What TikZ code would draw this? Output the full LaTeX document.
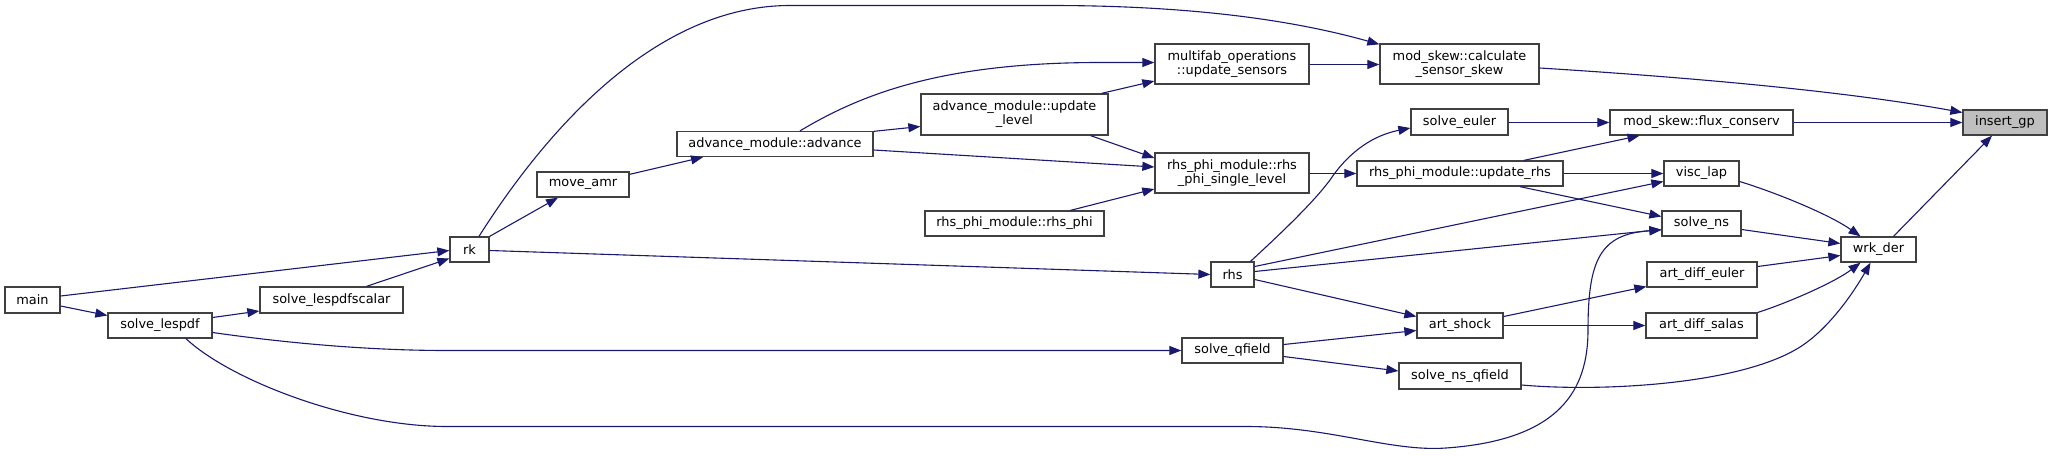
\documentclass[tikz,border=0pt]{standalone}
\usepackage{fontspec}
\newfontfamily\dvs{DejaVu Sans}
\usetikzlibrary{arrows.meta,calc}
\definecolor{edgecol}{RGB}{25,25,112}
\definecolor{bordercol}{RGB}{64,64,64}
\definecolor{grayfill}{RGB}{191,191,191}
\begin{document}
\begin{tikzpicture}[x=1pt,y=-1pt,
  box/.style={draw=bordercol,line width=1.3pt,fill=white,inner sep=0pt,align=center,
    font=\dvs\fontsize{12.9}{14}\selectfont},
  sz/.style 2 args={minimum width=#1pt,minimum height=#2pt},
  edge/.style={draw=edgecol,line width=1.1pt,-{Triangle[length=12pt,width=9pt]}}]
\useasboundingbox (0,0) rectangle (2052,455);

% nodes
\node[box,sz={55}{26}] (main) at (32.5,300) {main};
\node[box,sz={104}{25}] (lespdf) at (160,325.5) {solve\_lespdf};
\node[box,sz={143}{26}] (scalar) at (331.5,300) {solve\_lespdfscalar};
\node[box,sz={39}{25}] (rk) at (469.5,249.5) {rk};
\node[box,sz={92}{25}] (moveamr) at (583,184.5) {move\_amr};
\node[box,sz={196}{25}] (advance) at (775,144) {advance\_module::advance};
\node[box,sz={187}{41}] (uplevel) at (1014.5,114.5) {advance\_module::update\\\_level};
\node[box,sz={179}{25}] (rhsphi) at (1014.5,223.5) {rhs\_phi\_module::rhs\_phi};
\node[box,sz={154}{40}] (multifab) at (1232,64) {multifab\_operations\\::update\_sensors};
\node[box,sz={154}{40}] (single) at (1232,173) {rhs\_phi\_module::rhs\\\_phi\_single\_level};
\node[box,sz={159}{40}] (skew) at (1459.5,64) {mod\_skew::calculate\\\_sensor\_skew};
\node[box,sz={97}{26}] (euler) at (1459.5,122) {solve\_euler};
\node[box,sz={206}{25}] (updrhs) at (1460,173.5) {rhs\_phi\_module::update\_rhs};
\node[box,sz={43}{25}] (rhs) at (1232.5,274.5) {rhs};
\node[box,sz={86}{25}] (shock) at (1460,325.5) {art\_shock};
\node[box,sz={101}{25}] (qfield) at (1232.5,350.5) {solve\_qfield};
\node[box,sz={122}{26}] (nsq) at (1460,376) {solve\_ns\_qfield};
\node[box,sz={183}{25}] (flux) at (1701.5,122.5) {mod\_skew::flux\_conserv};
\node[box,sz={75}{25}] (visc) at (1701.5,173.5) {visc\_lap};
\node[box,sz={79}{25}] (ns) at (1701.5,223.5) {solve\_ns};
\node[box,sz={110}{25}] (ade) at (1702,274.5) {art\_diff\_euler};
\node[box,sz={111}{25}] (ads) at (1701.5,325.5) {art\_diff\_salas};
\node[box,sz={75}{25}] (wrk) at (1878.5,249.5) {wrk\_der};
\node[box,sz={84}{25},fill=grayfill] (ins) at (2005,122.5) {insert\_gp};

% edges
\draw[edge] ($(main.east)+(0,-4)$) -- ($(rk.west)+(0,1)$);
\draw[edge] ($(main.east)+(0,6)$) -- ($(lespdf.west)+(0,-10)$);
\draw[edge] ($(lespdf.east)+(0,-8)$) -- ($(scalar.west)+(0,11)$);
\draw[edge] ($(scalar.north)+(35,0)$) -- ($(rk.west)+(0,9)$);
\draw[edge] (rk.north east) -- ($(moveamr.south)+(-25,0)$);
\draw[edge] ($(rk.east)+(0,1)$) -- (rhs.west);
\draw[edge] ($(rk.north)+(9.5,0)$) .. controls (540,140) and (650,5.5) .. (790,5.5)
  -- (1050,5.5) .. controls (1200,5.5) and (1300,22) .. ($(skew.north west)+(0,1)$);
\draw[edge] ($(moveamr.north east)+(0,3)$) -- ($(advance.south)+(-72,0)$);
\draw[edge] ($(advance.north east)+(0,0.5)$) -- ($(uplevel.west)+(0,12)$);
\draw[edge] ($(advance.north)+(25,0)$) .. controls (860,95) and (940,62.5) .. (1100,62.5)
  -- ($(multifab.west)+(0,-1.5)$);
\draw[edge] ($(advance.east)+(0,6)$) -- ($(single.west)+(0,-6)$);
\draw[edge] ($(uplevel.north east)+(-7,0)$) -- ($(multifab.west)+(0,17)$);
\draw[edge] ($(uplevel.south east)+(-18,0)$) -- ($(single.west)+(0,-15)$);
\draw[edge] ($(rhsphi.north)+(56,0)$) -- ($(single.west)+(0,16)$);
\draw[edge] ($(multifab.east)+(0,0.5)$) -- ($(skew.west)+(0,0.5)$);
\draw[edge] ($(skew.east)+(0,4)$) .. controls (1700,78) and (1850,92) .. ($(ins.west)+(0,-10)$);
\draw[edge] ($(single.east)+(0,0.5)$) -- (updrhs.west);
\draw[edge] ($(rhs.north)+(18,0)$) .. controls (1290,225) and (1315,200) .. (1330,180)
  .. controls (1350,150) and (1375,135) .. ($(euler.west)+(0,6)$);
\draw[edge] ($(euler.east)+(0,0.5)$) -- (flux.west);
\draw[edge] ($(updrhs.north)+(64,0)$) -- ($(flux.south)+(-62,0)$);
\draw[edge] (updrhs.east) -- (visc.west);
\draw[edge] ($(updrhs.south)+(60,0)$) -- ($(ns.west)+(0,-7)$);
\draw[edge] (flux.east) -- (ins.west);
\draw[edge] ($(rhs.east)+(0,-8)$) -- ($(visc.west)+(0,8)$);
\draw[edge] ($(rhs.east)+(0,-3)$) -- ($(ns.west)+(0,6)$);
\draw[edge] ($(rhs.east)+(0,5)$) -- ($(shock.west)+(0,-9)$);
\draw[edge] ($(qfield.east)+(0,-6)$) -- ($(shock.west)+(0,5)$);
\draw[edge] ($(qfield.east)+(0,6)$) -- ($(nsq.west)+(0,-5)$);
\draw[edge] ($(shock.east)+(0,-9)$) -- ($(ade.west)+(0,12)$);
\draw[edge] (shock.east) -- (ads.west);
\draw[edge] ($(visc.east)+(0,8)$) .. controls (1780,194) and (1830,215) .. ($(wrk.north)+(-18,0)$);
\draw[edge] ($(ns.east)+(0,6)$) -- ($(wrk.west)+(0,-6)$);
\draw[edge] ($(ade.east)+(0,-8)$) -- ($(wrk.west)+(0,6)$);
\draw[edge] ($(ads.east)+(0,-13)$) .. controls (1790,302) and (1835,282) .. ($(wrk.south)+(-18,0)$);
\draw[edge] ($(nsq.east)+(0,9)$) .. controls (1600,392) and (1740,385) .. (1800,347)
  .. controls (1830,328) and (1855,290) .. ($(wrk.south)+(-8,0)$);
\draw[edge] ($(wrk.north)+(15,0)$) -- ($(ins.south)+(-13,0)$);
\draw[edge] ($(lespdf.east)+(0,7)$) .. controls (300,345) and (380,350.5) .. (447,350.5)
  -- (qfield.west);
\draw[edge] ($(lespdf.south)+(26,0)$) .. controls (230,380) and (350,426.5) .. (447,426.5)
  -- (1246,426.5) .. controls (1330,426.5) and (1390,452) .. (1446,448)
  .. controls (1560,440) and (1588,390) .. (1588,330)
  .. controls (1588,260) and (1600,234) .. ($(ns.west)+(0,6.5)$);
\end{tikzpicture}
\end{document}
